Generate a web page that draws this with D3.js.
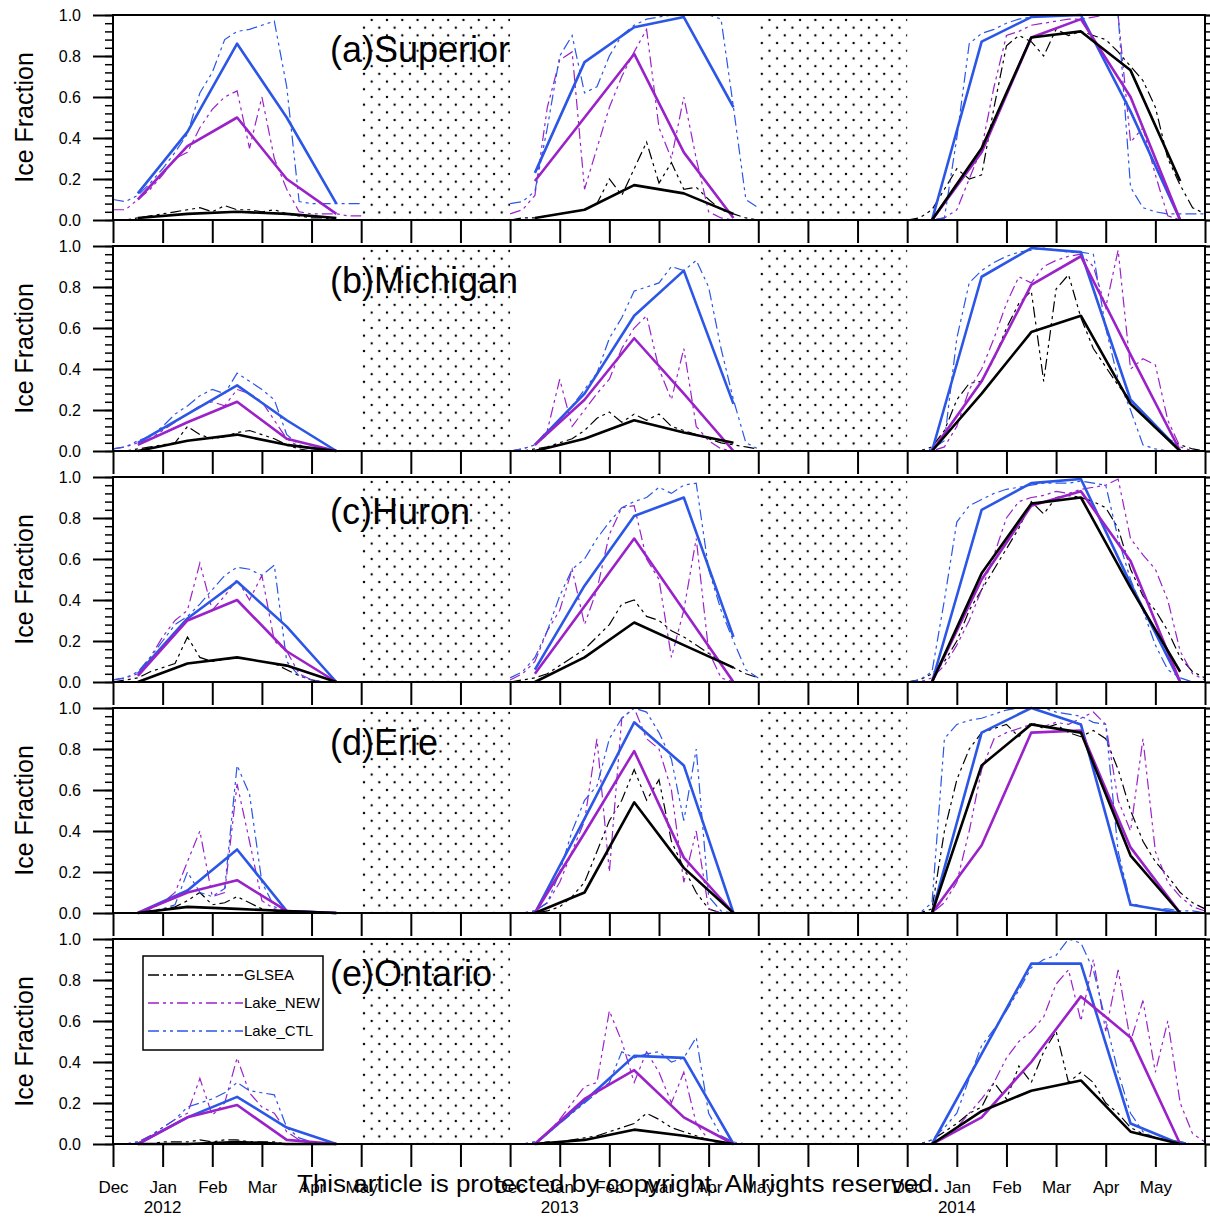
<!DOCTYPE html>
<html>
<head>
<meta charset="utf-8">
<script src="https://cdn.jsdelivr.net/npm/d3@7"></script>
<style>
  body { margin: 0; background: #fff; }
  text { font-family: "Liberation Sans", Arial, Helvetica, sans-serif; }
</style>
</head>
<body>
<svg id="chart" width="1210" height="1219"></svg>
<script>
// ---- data ----
const months = ["Dec", "Jan", "Feb", "Mar", "Apr", "May"];
const years = ["2012", "2013", "2014"];
const winterStart = [0, 8, 16];      // month index of each December
const gaps = [[5, 8], [13, 16]];     // summer gaps (stippled)
const dayStep = 0.25;                // spacing of the sub-monthly samples, in months
const seriesNames = ["GLSEA", "Lake_NEW", "Lake_CTL"];
const seriesColors = ["#000000", "#9b22c8", "#2b56e6"];
const lakeTitles = ["(a)Superior", "(b)Michigan", "(c)Huron", "(d)Erie", "(e)Ontario"];

// sub-monthly ice fraction, one list per winter
const supGlsea = [
  [0, 0, 0.01, 0.02, 0.03, 0.04, 0.05, 0.06, 0.04, 0.07, 0.05, 0.05, 0.04, 0.05, 0.03, 0.02, 0.01, 0.01, 0, 0, 0],
  [0, 0.01, 0.01, 0.02, 0.03, 0.04, 0.05, 0.08, 0.20, 0.12, 0.25, 0.38, 0.18, 0.28, 0.15, 0.16, 0.10, 0.05, 0.03, 0.01, 0],
  [0, 0.01, 0.05, 0.15, 0.25, 0.20, 0.22, 0.55, 0.85, 0.90, 0.87, 0.80, 0.93, 0.90, 0.92, 0.90, 0.88, 0.82, 0.75, 0.68, 0.55, 0.30, 0.17, 0.06, 0.03]
];
const supNew = [
  [0.05, 0.05, 0.10, 0.15, 0.22, 0.30, 0.33, 0.45, 0.54, 0.60, 0.63, 0.35, 0.60, 0.30, 0.15, 0.04, 0.03, 0.03, 0.03, 0.02, 0.02],
  [0.03, 0.05, 0.12, 0.55, 0.78, 0.82, 0.15, 0.35, 0.55, 0.70, 0.82, 0.93, 0.45, 0.30, 0.60, 0.30, 0.04, 0.01, 0, 0, 0],
  [0, 0, 0, 0.01, 0.05, 0.20, 0.35, 0.65, 0.90, 0.92, 0.95, 0.96, 0.97, 0.98, 0.98, 0.99, 1.0, 1.0, 0.38, 0.45, 0.22, 0.02, 0, 0, 0]
];
const supCtl = [
  [0.10, 0.09, 0.12, 0.18, 0.25, 0.33, 0.42, 0.62, 0.72, 0.88, 0.92, 0.93, 0.95, 0.97, 0.65, 0.09, 0.08, 0.08, 0.08, 0.08, 0.08],
  [0.08, 0.09, 0.14, 0.45, 0.80, 0.90, 0.62, 0.65, 0.80, 0.90, 0.95, 0.98, 0.99, 1.0, 1.0, 1.0, 1.0, 0.98, 0.55, 0.10, 0.06],
  [0, 0, 0, 0.01, 0.40, 0.86, 0.91, 0.93, 0.96, 0.98, 0.99, 1.0, 1.0, 1.0, 1.0, 1.0, 1.0, 1.0, 0.16, 0.06, 0.04, 0.03, 0.03, 0.03, 0.03]
];
const micGlsea = [
  [0, 0, 0.01, 0.02, 0.03, 0.04, 0.12, 0.08, 0.06, 0.07, 0.09, 0.10, 0.08, 0.06, 0.03, 0.01, 0, 0, 0, 0, 0],
  [0, 0, 0.01, 0.02, 0.04, 0.06, 0.10, 0.16, 0.19, 0.14, 0.18, 0.15, 0.18, 0.12, 0.10, 0.08, 0.06, 0.04, 0.03, 0.02, 0.01],
  [0, 0, 0.02, 0.10, 0.25, 0.33, 0.34, 0.45, 0.60, 0.72, 0.78, 0.34, 0.79, 0.86, 0.65, 0.50, 0.41, 0.32, 0.25, 0.18, 0.11, 0.06, 0.03, 0.01, 0]
];
const micNew = [
  [0.01, 0.02, 0.04, 0.06, 0.10, 0.14, 0.18, 0.22, 0.24, 0.22, 0.30, 0.28, 0.24, 0.15, 0.06, 0.02, 0.01, 0, 0, 0, 0],
  [0, 0.01, 0.03, 0.10, 0.35, 0.12, 0.20, 0.28, 0.35, 0.50, 0.60, 0.66, 0.40, 0.25, 0.50, 0.12, 0.05, 0.01, 0, 0, 0],
  [0, 0, 0, 0.02, 0.12, 0.30, 0.40, 0.55, 0.72, 0.85, 0.82, 0.90, 0.93, 0.95, 0.96, 0.90, 0.70, 0.98, 0.40, 0.45, 0.42, 0.15, 0.02, 0, 0]
];
const micCtl = [
  [0.01, 0.02, 0.05, 0.07, 0.12, 0.18, 0.22, 0.27, 0.30, 0.28, 0.38, 0.34, 0.30, 0.25, 0.08, 0.03, 0.01, 0.01, 0, 0, 0],
  [0, 0.01, 0.03, 0.08, 0.15, 0.22, 0.30, 0.38, 0.55, 0.65, 0.78, 0.80, 0.82, 0.90, 0.88, 0.93, 0.80, 0.50, 0.25, 0.04, 0.01],
  [0, 0, 0.01, 0.05, 0.55, 0.82, 0.88, 0.92, 0.95, 0.97, 0.98, 0.99, 0.98, 0.97, 0.97, 0.96, 0.60, 0.35, 0.20, 0.03, 0.01, 0, 0, 0, 0]
];
const hurGlsea = [
  [0, 0.01, 0.02, 0.05, 0.07, 0.09, 0.22, 0.12, 0.10, 0.11, 0.12, 0.11, 0.10, 0.09, 0.06, 0.03, 0.01, 0, 0, 0, 0],
  [0, 0.01, 0.02, 0.04, 0.08, 0.12, 0.16, 0.22, 0.28, 0.38, 0.40, 0.32, 0.30, 0.25, 0.22, 0.18, 0.14, 0.10, 0.07, 0.04, 0.02],
  [0, 0.01, 0.04, 0.10, 0.20, 0.35, 0.45, 0.55, 0.65, 0.75, 0.88, 0.82, 0.90, 0.91, 0.90, 0.88, 0.85, 0.75, 0.55, 0.42, 0.35, 0.25, 0.12, 0.05, 0.02]
];
const hurNew = [
  [0.01, 0.02, 0.04, 0.12, 0.22, 0.30, 0.35, 0.58, 0.35, 0.42, 0.50, 0.40, 0.52, 0.20, 0.15, 0.04, 0.01, 0, 0, 0, 0],
  [0.01, 0.04, 0.10, 0.25, 0.35, 0.55, 0.28, 0.45, 0.72, 0.85, 0.86, 0.60, 0.50, 0.12, 0.35, 0.70, 0.15, 0.02, 0, 0, 0],
  [0, 0, 0.02, 0.08, 0.18, 0.30, 0.45, 0.62, 0.80, 0.88, 0.90, 0.91, 0.93, 0.92, 0.94, 0.95, 0.96, 0.99, 0.70, 0.62, 0.55, 0.40, 0.15, 0.04, 0.01]
];
const hurCtl = [
  [0.01, 0.02, 0.05, 0.12, 0.20, 0.28, 0.32, 0.38, 0.45, 0.52, 0.56, 0.55, 0.52, 0.57, 0.10, 0.03, 0.01, 0, 0, 0, 0],
  [0.02, 0.05, 0.12, 0.25, 0.42, 0.55, 0.60, 0.70, 0.78, 0.85, 0.88, 0.90, 0.95, 0.92, 0.96, 0.97, 0.55, 0.35, 0.20, 0.06, 0.02],
  [0, 0.01, 0.05, 0.40, 0.78, 0.86, 0.89, 0.92, 0.94, 0.95, 0.96, 0.97, 0.97, 0.97, 0.98, 0.97, 0.96, 0.70, 0.50, 0.35, 0.18, 0.06, 0.02, 0, 0]
];
const erieGlsea = [
  [0, 0, 0, 0.01, 0.02, 0.03, 0.06, 0.10, 0.04, 0.05, 0.08, 0.05, 0.02, 0.01, 0, 0, 0, 0, 0, 0, 0],
  [0, 0, 0, 0.01, 0.03, 0.08, 0.15, 0.30, 0.45, 0.55, 0.70, 0.55, 0.65, 0.35, 0.22, 0.10, 0.02, 0, 0, 0, 0],
  [0, 0, 0.02, 0.40, 0.65, 0.80, 0.88, 0.90, 0.92, 0.86, 0.93, 0.90, 0.92, 0.88, 0.86, 0.89, 0.85, 0.70, 0.50, 0.35, 0.25, 0.18, 0.10, 0.05, 0.02]
];
const erieNew = [
  [0, 0, 0, 0.02, 0.05, 0.10, 0.25, 0.40, 0.08, 0.10, 0.63, 0.35, 0.06, 0.02, 0.01, 0, 0, 0, 0, 0, 0],
  [0, 0, 0.01, 0.05, 0.15, 0.30, 0.45, 0.85, 0.20, 0.95, 1.0, 0.85, 0.80, 0.60, 0.15, 0.40, 0.02, 0, 0, 0, 0],
  [0, 0, 0, 0.05, 0.15, 0.40, 0.70, 0.85, 0.88, 0.90, 0.92, 0.91, 0.93, 0.92, 0.95, 0.98, 0.92, 0.55, 0.40, 0.85, 0.30, 0.15, 0.08, 0.03, 0.01]
];
const erieCtl = [
  [0, 0, 0, 0.01, 0.02, 0.04, 0.20, 0.10, 0.08, 0.12, 0.72, 0.58, 0.15, 0.03, 0.01, 0, 0, 0, 0, 0, 0],
  [0, 0, 0.01, 0.05, 0.20, 0.40, 0.55, 0.62, 0.85, 0.95, 1.0, 0.98, 0.88, 0.75, 0.45, 0.80, 0.08, 0.01, 0, 0, 0],
  [0, 0, 0.05, 0.85, 0.92, 0.94, 0.95, 0.97, 0.99, 1.0, 1.0, 1.0, 0.98, 0.97, 0.96, 0.93, 0.92, 0.30, 0.05, 0.03, 0.02, 0.02, 0.01, 0.01, 0]
];
const ontGlsea = [
  [0, 0, 0, 0, 0.01, 0.01, 0.01, 0.02, 0.01, 0.02, 0.02, 0.01, 0.01, 0.01, 0, 0, 0, 0, 0, 0, 0],
  [0, 0, 0, 0.01, 0.01, 0.02, 0.03, 0.04, 0.06, 0.08, 0.10, 0.15, 0.12, 0.08, 0.06, 0.04, 0.02, 0.01, 0, 0, 0],
  [0, 0, 0.02, 0.06, 0.10, 0.15, 0.18, 0.30, 0.22, 0.38, 0.30, 0.45, 0.55, 0.30, 0.35, 0.30, 0.20, 0.15, 0.08, 0.05, 0.03, 0.02, 0.01, 0, 0]
];
const ontNew = [
  [0, 0, 0.01, 0.04, 0.08, 0.12, 0.15, 0.32, 0.14, 0.20, 0.42, 0.25, 0.18, 0.15, 0.06, 0.02, 0, 0, 0, 0, 0],
  [0, 0, 0.01, 0.05, 0.12, 0.20, 0.28, 0.30, 0.65, 0.50, 0.30, 0.45, 0.35, 0.20, 0.35, 0.10, 0.02, 0, 0, 0, 0],
  [0, 0, 0, 0.03, 0.08, 0.15, 0.22, 0.30, 0.42, 0.50, 0.55, 0.62, 0.78, 0.85, 0.60, 0.90, 0.55, 0.85, 0.50, 0.70, 0.35, 0.60, 0.20, 0.05, 0.01]
];
const ontCtl = [
  [0, 0, 0.01, 0.04, 0.08, 0.12, 0.18, 0.20, 0.22, 0.25, 0.30, 0.26, 0.25, 0.24, 0.08, 0.03, 0.01, 0, 0, 0, 0],
  [0, 0, 0.01, 0.05, 0.10, 0.15, 0.20, 0.25, 0.30, 0.45, 0.42, 0.44, 0.45, 0.40, 0.42, 0.52, 0.15, 0.04, 0.01, 0, 0],
  [0, 0, 0.02, 0.08, 0.15, 0.32, 0.48, 0.56, 0.65, 0.75, 0.86, 0.90, 0.92, 1.0, 0.98, 0.85, 0.60, 0.35, 0.15, 0.06, 0.03, 0.02, 0.01, 0, 0]
];

// monthly means (mid-month), one list per winter
const supGlseaMon = [[0.01, 0.03, 0.04, 0.03, 0.01], [0.01, 0.05, 0.17, 0.13, 0.03], [0, 0.35, 0.89, 0.92, 0.73, 0.19]];
const supNewMon   = [[0.10, 0.36, 0.50, 0.20, 0.03], [0.19, 0.50, 0.81, 0.33, 0.01], [0, 0.33, 0.89, 0.98, 0.60, 0]];
const supCtlMon   = [[0.13, 0.43, 0.86, 0.50, 0.08], [0.23, 0.77, 0.94, 0.99, 0.55], [0, 0.87, 0.99, 1.0, 0.53, 0]];
const micGlseaMon = [[0, 0.05, 0.08, 0.03, 0], [0, 0.06, 0.15, 0.09, 0.04], [0, 0.28, 0.58, 0.66, 0.23, 0]];
const micNewMon   = [[0.03, 0.14, 0.24, 0.06, 0], [0.03, 0.25, 0.55, 0.28, 0], [0, 0.34, 0.81, 0.95, 0.47, 0]];
const micCtlMon   = [[0.04, 0.18, 0.32, 0.15, 0], [0.03, 0.28, 0.66, 0.88, 0.23], [0, 0.85, 0.99, 0.97, 0.25, 0]];
const hurGlseaMon = [[0, 0.09, 0.12, 0.08, 0], [0, 0.12, 0.29, 0.18, 0.07], [0, 0.53, 0.87, 0.90, 0.46, 0.05]];
const hurNewMon   = [[0.03, 0.30, 0.40, 0.15, 0], [0.04, 0.37, 0.70, 0.35, 0], [0, 0.50, 0.86, 0.93, 0.59, 0]];
const hurCtlMon   = [[0.04, 0.31, 0.49, 0.27, 0], [0.06, 0.47, 0.81, 0.90, 0.22], [0, 0.84, 0.97, 0.99, 0.48, 0]];
const erieGlseaMon = [[0, 0.03, 0.02, 0.01, 0], [0, 0.10, 0.54, 0.22, 0], [0, 0.72, 0.92, 0.88, 0.28, 0]];
const erieNewMon   = [[0, 0.10, 0.16, 0.01, 0], [0, 0.39, 0.79, 0.27, 0], [0, 0.33, 0.88, 0.89, 0.32, 0]];
const erieCtlMon   = [[0, 0.11, 0.31, 0.01, 0], [0, 0.46, 0.93, 0.72, 0], [0, 0.88, 1.0, 0.92, 0.04, 0]];
const ontGlseaMon = [[0, 0, 0.01, 0, 0], [0, 0.02, 0.07, 0.04, 0], [0, 0.16, 0.26, 0.31, 0.06, 0]];
const ontNewMon   = [[0, 0.13, 0.19, 0.02, 0], [0, 0.22, 0.36, 0.13, 0], [0, 0.13, 0.40, 0.72, 0.52, 0]];
const ontCtlMon   = [[0, 0.13, 0.23, 0.08, 0], [0, 0.21, 0.43, 0.42, 0], [0, 0.44, 0.88, 0.88, 0.10, 0]];

const panels = [
  { title: lakeTitles[0], daily: [supGlsea, supNew, supCtl], mon: [supGlseaMon, supNewMon, supCtlMon] },
  { title: lakeTitles[1], daily: [micGlsea, micNew, micCtl], mon: [micGlseaMon, micNewMon, micCtlMon] },
  { title: lakeTitles[2], daily: [hurGlsea, hurNew, hurCtl], mon: [hurGlseaMon, hurNewMon, hurCtlMon] },
  { title: lakeTitles[3], daily: [erieGlsea, erieNew, erieCtl], mon: [erieGlseaMon, erieNewMon, erieCtlMon] },
  { title: lakeTitles[4], daily: [ontGlsea, ontNew, ontCtl], mon: [ontGlseaMon, ontNewMon, ontCtlMon] }
];

// ---- layout ----
const svg = d3.select("#chart");
const panelTops = [15, 246, 477, 708, 939];
const panelH = 205;
const x = d3.scaleLinear().domain([0, 22]).range([113, 1205]);
const y = d3.scaleLinear().domain([0, 1]).range([panelH, 0]);
const dash = "11,4,3,4,3,4";
const font = '"Liberation Sans", Arial, Helvetica, sans-serif';

// stipple pattern for the summer gaps
const pat = svg.append("defs").append("pattern")
  .attr("id", "stipple").attr("patternUnits", "userSpaceOnUse")
  .attr("x", 360.2).attr("y", 1.1).attr("width", 15.3).attr("height", 15.4);
pat.append("circle").attr("cx", 11.5).attr("cy", 3.9).attr("r", 1.2).attr("fill", "#000");
pat.append("circle").attr("cx", 3.8).attr("cy", 11.6).attr("r", 1.2).attr("fill", "#000");

const line = d3.line().x(d => x(d[0])).y(d => y(d[1]));

function monthName(i) {
  for (const w of winterStart) {
    if (i - w >= 0 && i - w < months.length) return months[i - w];
  }
  return "";
}

panels.forEach((p, pi) => {
  const g = svg.append("g").attr("transform", `translate(0,${panelTops[pi]})`);
  const last = pi === panels.length - 1;

  // stippled gaps
  g.selectAll("rect.gap").data(gaps).join("rect")
    .attr("class", "gap")
    .attr("x", d => x(d[0])).attr("width", d => x(d[1]) - x(d[0]))
    .attr("y", 1).attr("height", panelH - 2)
    .attr("fill", "url(#stipple)");

  // title
  g.append("text").attr("x", 330).attr("y", 47)
    .attr("font-size", 36).attr("fill", "#000").text(p.title);

  // sub-monthly dash-dot lines
  p.daily.forEach((arr, si) => {
    arr.forEach((vals, w) => {
      const pts = vals.map((v, k) => [winterStart[w] + k * dayStep, v]);
      g.append("path").attr("d", line(pts))
        .attr("fill", "none").attr("stroke", seriesColors[si])
        .attr("stroke-width", 1.2).attr("stroke-dasharray", dash);
    });
  });

  // monthly means (solid)
  [2, 1, 0].forEach(si => {
    p.mon[si].forEach((vals, w) => {
      const pts = vals.map((v, k) => [winterStart[w] + 0.5 + k, v]);
      g.append("path").attr("d", line(pts))
        .attr("fill", "none").attr("stroke", seriesColors[si])
        .attr("stroke-width", 2.6).attr("stroke-linejoin", "round");
    });
  });

  // x axis (ticks only, labels on the last panel)
  const xAxis = d3.axisBottom(x).tickValues(d3.range(0, 23))
    .tickSize(23).tickSizeOuter(0).tickPadding(14)
    .tickFormat(i => last ? monthName(i) : "");
  const xg = g.append("g").attr("transform", `translate(0,${panelH})`).call(xAxis);
  xg.select(".domain").remove();
  xg.selectAll("line").attr("stroke-width", 2);
  xg.selectAll("text").attr("font-size", 17).attr("font-family", font).attr("fill", "#000");

  // y axes, left and right
  const majors = d3.range(0, 1.001, 0.2);
  const minors = d3.range(0, 1.001, 0.04);
  const yl = g.append("g").attr("transform", "translate(113,0)")
    .call(d3.axisLeft(y).tickValues(majors).tickSize(20).tickPadding(12).tickFormat(d3.format(".1f")));
  yl.select(".domain").remove();
  yl.selectAll("line").attr("stroke-width", 2);
  yl.selectAll("text").attr("font-size", 16).attr("font-family", font).attr("fill", "#000");
  const ylm = g.append("g").attr("transform", "translate(113,0)")
    .call(d3.axisLeft(y).tickValues(minors).tickSize(8).tickFormat(""));
  ylm.select(".domain").remove();
  ylm.selectAll("line").attr("stroke-width", 1.5);
  const yr = g.append("g").attr("transform", "translate(1205,0)")
    .call(d3.axisRight(y).tickValues(majors).tickSize(20).tickFormat(""));
  yr.select(".domain").remove();
  yr.selectAll("line").attr("stroke-width", 2);
  const yrm = g.append("g").attr("transform", "translate(1205,0)")
    .call(d3.axisRight(y).tickValues(minors).tickSize(8).tickFormat(""));
  yrm.select(".domain").remove();
  yrm.selectAll("line").attr("stroke-width", 1.5);

  // y title
  g.append("text").attr("transform", `translate(33,${panelH / 2}) rotate(-90)`)
    .attr("text-anchor", "middle").attr("font-size", 25).attr("fill", "#000")
    .text("Ice Fraction");

  // frame
  g.append("rect").attr("x", x(0)).attr("y", 0)
    .attr("width", x(22) - x(0)).attr("height", panelH)
    .attr("fill", "none").attr("stroke", "#000").attr("stroke-width", 2);

  if (last) {
    // year labels under January
    g.selectAll("text.year").data(years).join("text")
      .attr("class", "year")
      .attr("x", (d, i) => x(winterStart[i] + 1)).attr("y", panelH + 69)
      .attr("text-anchor", "middle").attr("font-size", 17).attr("fill", "#000")
      .text(d => d);

    // legend
    const lg = g.append("g");
    lg.append("rect").attr("x", 143).attr("y", 17).attr("width", 180).attr("height", 94)
      .attr("fill", "#fff").attr("stroke", "#000").attr("stroke-width", 1.5);
    seriesNames.forEach((name, i) => {
      const ly = 36 + i * 28;
      lg.append("line").attr("x1", 148).attr("x2", 243).attr("y1", ly).attr("y2", ly)
        .attr("stroke", seriesColors[i]).attr("stroke-width", 1.5)
        .attr("stroke-dasharray", dash);
      lg.append("text").attr("x", 244).attr("y", ly).attr("dy", "0.35em")
        .attr("font-size", 15).attr("fill", "#000").text(name);
    });
  }
});

// copyright overlay line
svg.append("text").attr("x", 297).attr("y", 1192)
  .attr("font-family", '"Open Sans", sans-serif').attr("font-size", 23)
  .attr("textLength", 643).attr("lengthAdjust", "spacingAndGlyphs")
  .attr("fill", "#000")
  .text("This article is protected by copyright. All rights reserved.");
</script>
</body>
</html>
